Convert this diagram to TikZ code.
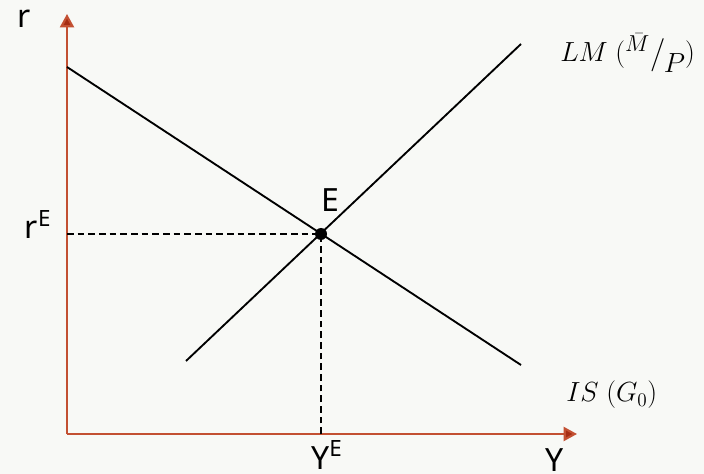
\documentclass[tikz,border=0pt]{standalone}
\usepackage{fontspec}
\setmainfont{Noto Sans}
\usetikzlibrary{arrows.meta}
\definecolor{axiscol}{RGB}{195,80,50}
\definecolor{tipcol}{RGB}{165,45,20}
\definecolor{bgcol}{RGB}{248,249,246}
\begin{document}
\begin{tikzpicture}[x=0.75pt,y=-0.75pt,
  axis/.style={draw=axiscol,line width=1.6pt,-{Triangle[length=10pt,width=10.5pt,fill=tipcol]}},
  curve/.style={draw=black,line width=1.4pt},
  guide/.style={draw=black,line width=1pt,dash pattern=on 5pt off 3pt},
  lbl/.style={font=\fontsize{24}{28}\selectfont,inner sep=0pt,anchor=base},
  mlbl/.style={font=\fontsize{22}{24}\selectfont,inner sep=0pt,anchor=base west}]
\fill[bgcol] (0,0) rectangle (704,474);
\useasboundingbox (0,0) rectangle (704,474);
\coordinate (O) at (67,434);
\coordinate (ytop) at (67,14);
\coordinate (xend) at (577,434);
\coordinate (isA) at (67,67);
\coordinate (isB) at (521,365);
\coordinate (lmA) at (186,361);
\coordinate (lmB) at (521,44);
\coordinate (rE) at (67,234);
\coordinate (yE) at (321,434);
\node[circle,inner sep=0pt,minimum size=9pt] (E) at (321,234) {};
\draw[axis] (O) -- (ytop);
\draw[axis] (O) -- (xend);
\draw[guide] (rE) -- (E.center);
\draw[guide] (yE) -- (E.center);
\draw[curve] (isA) -- (isB);
\draw[curve] (lmA) -- (lmB);
\fill[black] (E.center) circle[radius=4.5pt];
\node[lbl] (rl) at (24,28) {r};
\node[lbl] (rEl) at (38,239) {r\textsuperscript{E}};
\node[lbl] (El) at (330,212) {E};
\node[lbl] (yEl) at (327,469) {Y\textsuperscript{E}};
\node[lbl] (yl) at (555,471) {Y};
\node[mlbl] (lml) at (560,62) {$LM\ ($\raisebox{7.5pt}{\fontsize{19}{19}\selectfont$\bar{M}$}\kern0.5pt\raisebox{-1pt}{\fontsize{27}{27}\selectfont$/$}\kern-1pt\raisebox{-8pt}{\fontsize{20}{20}\selectfont$P$}$)$};
\node[mlbl] (isl) at (566,402) {$IS\ (G_0)$};
\end{tikzpicture}
\end{document}
